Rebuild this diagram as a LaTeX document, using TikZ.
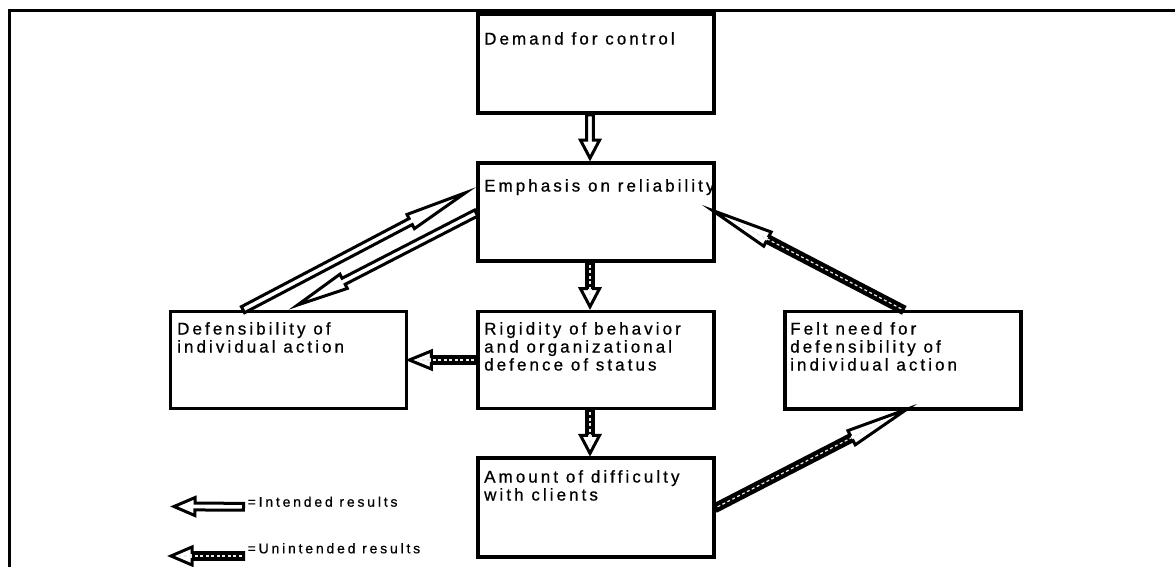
\documentclass[tikz,border=0pt]{standalone}
\usepackage{fontspec}
\setmainfont{Liberation Sans}
\newfontfamily\spacedsans[LetterSpace=18, FakeBold=0.7]{Liberation Sans}
\newfontfamily\legendsans[LetterSpace=20, FakeBold=0.7]{Liberation Sans}
\usetikzlibrary{calc}

\tikzset{
  hl/.store in=\ahl, hw/.store in=\ahw, tb/.store in=\atb,
  hl=18, hw=9, tb=3,
  box/.style={draw=black, line width=3.6pt, minimum width=236pt, inner sep=0pt},
  lbl/.style={font=\spacedsans\fontsize{17}{18}\selectfont, inner sep=0pt,
    align=left, anchor=north west},
  legendtext/.style={font=\legendsans\fontsize{14}{15}\selectfont, inner sep=0pt,
    anchor=base west},
  % hollow block arrow: outline polygon from start to target
  fatarrow/.style={draw=black, fill=white, line width=3pt, line join=miter,
    to path={let \p1=(\tikztostart), \p2=(\tikztotarget),
        \n1={atan2(\y2-\y1,\x2-\x1)}, \n2={veclen(\x2-\x1,\y2-\y1)-\atb pt}
      in {[shift={(\p1)}, rotate=\n1]
        (0pt,3.4pt) -- ({\n2-\ahl pt},3.4pt) -- ({\n2-\ahl pt},\ahw pt) -- (\n2,0pt)
        -- ({\n2-\ahl pt},-\ahw pt) -- ({\n2-\ahl pt},-3.4pt) -- (0pt,-3.4pt) -- cycle}}},
  % dark core of the shaft for the unintended-result arrows
  blackshaft/.style={draw=black, line width=6.8pt, line cap=butt,
    to path={let \p1=(\tikztostart), \p2=(\tikztotarget),
        \n1={atan2(\y2-\y1,\x2-\x1)}, \n2={veclen(\x2-\x1,\y2-\y1)-\atb pt}
      in {[shift={(\p1)}, rotate=\n1] (0pt,0pt) -- ({\n2-\ahl pt},0pt)}}},
  % broken centre line of the unintended-result arrows
  dashline/.style={draw=black!8, line width=1.2pt, line cap=butt,
    dash pattern=on 3pt off 2.5pt,
    to path={let \p1=(\tikztostart), \p2=(\tikztotarget),
        \n1={atan2(\y2-\y1,\x2-\x1)}, \n2={veclen(\x2-\x1,\y2-\y1)-\atb pt}
      in {[shift={(\p1)}, rotate=\n1] (2pt,0pt) -- ({\n2-0.4*\ahl pt},0pt)}}},
}

\begin{document}
\begin{tikzpicture}[x=1pt, y=-1pt]
\useasboundingbox (0,0) rectangle (1175,567);

% outer frame (top and left edges)
\draw[line width=3.3pt, line join=miter] (9.7,567) -- (9.7,10.3) -- (1175,10.3);

% boxes
\node[box, minimum height=99pt]   (demand) at (596,63.5)   {};
\node[box, minimum height=98pt]   (emph)   at (596,212)    {};
\node[box, minimum height=97pt]   (rigid)  at (596,360)    {};
\node[box, minimum height=99pt]   (amount) at (596,507.7)  {};
\node[box, minimum height=97pt]   (defens) at (288.5,360)  {};
\node[box, minimum height=97.5pt] (felt)   at (903,360.25) {};

% box texts
\node[lbl] (demand-t) at (484,32)  {Demand for control};
\node[lbl] (emph-t)   at (484,179) {Emphasis on reliability};
\node[lbl] (rigid-t)  at (484,322) {Rigidity of behavior\\and organizational\\defence of status};
\node[lbl] (amount-t) at (484,470) {Amount of difficulty\\with clients};
\node[lbl] (defens-t) at (177,322) {Defensibility of\\individual action};
\node[lbl] (felt-t)   at (790,322) {Felt need for\\defensibility of\\individual action};

% legend
\node[legendtext] (legi) at (247.5,506.7) {=Intended results};
\node[legendtext] (legu) at (247.5,553.3) {=Unintended results};
\coordinate (legi-tip) at (171,506.5);
\coordinate (legu-tip) at (168,556);

% intended results
\path[hl=18, hw=9.5, tb=3]
  ([xshift=-6pt]demand.south) edge[fatarrow] ([xshift=-6pt]emph.north);
\path[hl=62, hw=8, tb=12]
  ($(defens.north west)!0.31!(defens.north east)$)
    edge[fatarrow] ($(emph.north west)!0.255!(emph.south west)$);
\path[hl=52, hw=8, tb=10]
  ($(emph.north west)!0.51!(emph.south west)$)
    edge[fatarrow] ($(defens.north west)!0.5!(defens.north east)$);
\path[hl=21, hw=9, tb=3]
  ([xshift=-4pt]legi.base west) edge[fatarrow] (legi-tip);

% unintended results
\path[hl=18, hw=9.5, tb=3]
  ([xshift=-6pt]emph.south)
    edge[fatarrow] ([xshift=-6pt]rigid.north)
    edge[blackshaft] ([xshift=-6pt]rigid.north)
    edge[dashline] ([xshift=-6pt]rigid.north);
\path[hl=18, hw=9.5, tb=3]
  ([xshift=-6pt]rigid.south)
    edge[fatarrow] ([xshift=-6pt]amount.north)
    edge[blackshaft] ([xshift=-6pt]amount.north)
    edge[dashline] ([xshift=-6pt]amount.north);
\path[hl=22, hw=9, tb=3]
  (rigid.west)
    edge[fatarrow] ([xshift=-2pt]defens.east)
    edge[blackshaft] ([xshift=-2pt]defens.east)
    edge[dashline] ([xshift=-2pt]defens.east);
\path[hl=62, hw=8, tb=12]
  (felt.north)
    edge[fatarrow] ([xshift=-14pt]$(emph.north east)!0.43!(emph.south east)$)
    edge[blackshaft] ([xshift=-14pt]$(emph.north east)!0.43!(emph.south east)$)
    edge[dashline] ([xshift=-14pt]$(emph.north east)!0.43!(emph.south east)$);
\path[hl=62, hw=8, tb=12]
  (amount.east)
    edge[fatarrow] ([yshift=7pt]$(felt.south west)!0.56!(felt.south east)$)
    edge[blackshaft] ([yshift=7pt]$(felt.south west)!0.56!(felt.south east)$)
    edge[dashline] ([yshift=7pt]$(felt.south west)!0.56!(felt.south east)$);
\path[hl=21, hw=9, tb=3]
  ([xshift=-4pt, yshift=-2.7pt]legu.base west)
    edge[fatarrow] (legu-tip)
    edge[blackshaft] (legu-tip)
    edge[dashline] (legu-tip);
\end{tikzpicture}
\end{document}
